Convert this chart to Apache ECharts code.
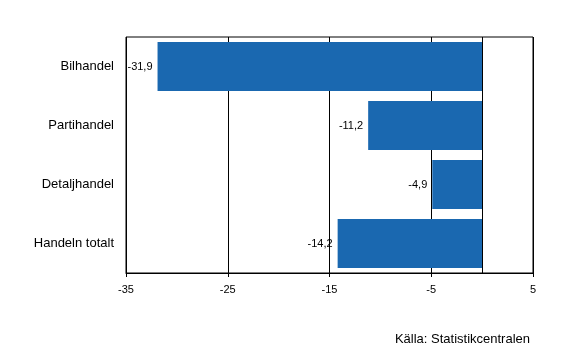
<!DOCTYPE html>
<html><head><meta charset="utf-8">
<script src="https://cdn.jsdelivr.net/npm/echarts@6/dist/echarts.min.js"></script>
<style>html,body{margin:0;padding:0;background:#fff}#c{width:565px;height:360px}</style>
</head><body><div id="c"></div>
<script>
const categories = ["Bilhandel", "Partihandel", "Detaljhandel", "Handeln totalt"];
const values = [-31.9, -11.2, -4.9, -14.2];
const xTicks = [-35, -25, -15, -5, 5];
const sourceText = "Källa: Statistikcentralen";

const font = "Liberation Sans, Arial, sans-serif";
const chart = echarts.init(document.getElementById('c'), null, {renderer: 'canvas'});
chart.setOption({
  animation: false,
  textStyle: {fontFamily: font},
  grid: {left: 126, right: 32, top: 37, bottom: 87, show: true, borderColor: '#000', borderWidth: 1},
  xAxis: {
    type: 'value', min: xTicks[0], max: xTicks[xTicks.length - 1], interval: 10,
    axisLine: {show: true, onZero: false, lineStyle: {color: '#000', width: 1}},
    axisTick: {show: true, length: 4, lineStyle: {color: '#000'}},
    axisLabel: {color: '#000', fontSize: 11, margin: 11, fontFamily: font,
      formatter: v => String(v)},
    splitLine: {show: true, lineStyle: {color: '#000', width: 1}}
  },
  yAxis: {
    type: 'category', data: categories, inverse: true,
    axisLine: {show: false}, axisTick: {show: false},
    axisLabel: {color: '#000', fontSize: 13, margin: 12, fontFamily: font}
  },
  series: [{
    type: 'bar', data: values, barCategoryGap: '17%',
    itemStyle: {color: '#1a68b0'},
    label: {show: true, position: 'left', distance: 5, color: '#000', fontSize: 11, fontFamily: font,
      formatter: p => String(p.value).replace('.', ',')},
    markLine: {
      silent: true, symbol: 'none', label: {show: false},
      lineStyle: {color: '#000', width: 1, type: 'solid'},
      data: [{xAxis: 0}]
    }
  }],
  graphic: [{
    type: 'text', right: 35, top: 333,
    style: {text: sourceText, fill: '#000', font: '13px ' + font}
  }]
});
</script></body></html>
